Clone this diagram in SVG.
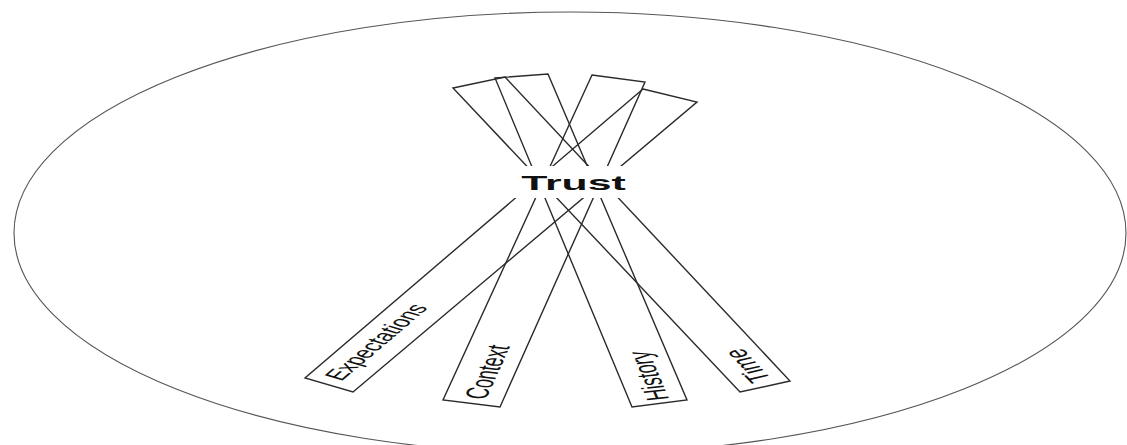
<svg xmlns="http://www.w3.org/2000/svg" width="1127" height="445" viewBox="0 0 1127 445">
  <style>
    .bar { fill: none; stroke: #2b2b2b; stroke-width: 1.4; stroke-linejoin: miter; }
    .lbl { font-family: "Liberation Sans", Arial, sans-serif; font-size: 16px; fill: #111; text-anchor: middle; }
    .title { font-family: "Liberation Sans", Arial, sans-serif; font-size: 21px; font-weight: bold; fill: #111; text-anchor: middle; }
  </style>
  <rect width="1127" height="445" fill="#ffffff"/>
  <g id="context-ellipse">
    <ellipse cx="570" cy="233" rx="556" ry="221" fill="none" stroke="#555" stroke-width="1.1"/>
  </g>
  <g id="connectors"/>
  <g id="time">
    <polygon class="bar" points="453,88 505,77 790,381 740,392"/>
    <text class="lbl" transform="translate(747,366) scale(2,1) rotate(-115.2)" dy="0.35em">Time</text>
  </g>
  <g id="history">
    <polygon class="bar" points="495,78 548,74 687,400 632,407"/>
    <text class="lbl" transform="translate(648,376) scale(2,1) rotate(-101.9)" dy="0.35em">History</text>
  </g>
  <g id="context">
    <polygon class="bar" points="592,75 645,82 500,407 443,400"/>
    <text class="lbl" transform="translate(487,372) scale(2,1) rotate(-77.3)" dy="0.35em">Context</text>
  </g>
  <g id="expectations">
    <polygon class="bar" points="643,89 697,102 353,392 305,378"/>
    <text class="lbl" transform="translate(376,342) scale(2,1) rotate(-59.4)" dy="0.35em" style="font-size:15px">Expectations</text>
  </g>
  <g id="trust">
    <rect x="480" y="166" width="180" height="32" fill="#ffffff"/>
    <text class="title" transform="translate(573.5,190) scale(2.04,1)">Trust</text>
  </g>
</svg>
